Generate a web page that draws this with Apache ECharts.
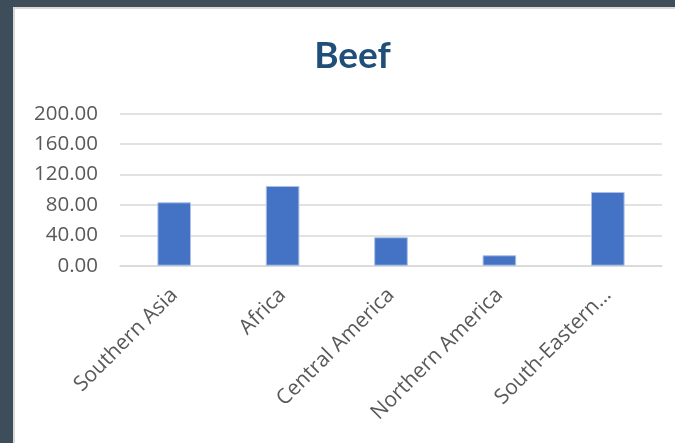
<!DOCTYPE html>
<html>
<head>
<meta charset="utf-8">
<script src="https://cdn.jsdelivr.net/npm/echarts@6/dist/echarts.min.js"></script>
<style>
  html, body { margin: 0; padding: 0; background: #3d4d59; overflow: hidden; }
  #chart { width: 675px; height: 443px; }
</style>
</head>
<body>
<div id="chart"></div>
<script>
// Beef by region
const categories = ['Southern Asia', 'Africa', 'Central America', 'Northern America', 'South-Eastern Asia'];
const beefValues = [83.4, 104.9, 37.4, 13.7, 97.0];
const yTicks = { min: 0, max: 200, interval: 40 };

const chart = echarts.init(document.getElementById('chart'));

chart.setOption({
  backgroundColor: '#3d4d59',
  animation: false,
  graphic: [
    {
      type: 'rect',
      shape: { x: 14, y: 8, width: 700, height: 480 },
      style: { fill: '#ffffff', stroke: '#d9d9d9', lineWidth: 2 },
      z: -10
    },
    {
      type: 'text',
      x: 352.5,
      y: 56,
      style: {
        text: 'Beef',
        fill: '#1f4e79',
        font: 'bold 37px Lato',
        align: 'center',
        verticalAlign: 'middle'
      }
    }
  ],
  grid: { left: 120, right: 13, top: 113.7, bottom: 177.3 },
  xAxis: {
    type: 'category',
    data: categories,
    axisLine: { show: true, lineStyle: { color: '#d9d9d9', width: 1.5 } },
    axisTick: { show: false },
    axisLabel: {
      rotate: 45,
      margin: 26,
      interval: 0,
      color: '#595959',
      fontFamily: 'Open Sans',
      fontSize: 21,
      formatter: v => (v.length > 16 ? v.split(' ')[0] + '…' : v)
    }
  },
  yAxis: {
    type: 'value',
    min: yTicks.min,
    max: yTicks.max,
    interval: yTicks.interval,
    axisLine: { show: false },
    axisTick: { show: false },
    splitLine: { lineStyle: { color: '#d9d9d9', width: 1.5 } },
    axisLabel: {
      margin: 22,
      color: '#595959',
      fontFamily: 'Open Sans',
      fontSize: 20.5,
      formatter: v => v.toFixed(2)
    }
  },
  series: [
    {
      type: 'bar',
      data: beefValues,
      barWidth: '31%',
      itemStyle: { color: '#4472c4', borderColor: '#a9c0e8', borderWidth: 1 }
    }
  ]
});
</script>
</body>
</html>
